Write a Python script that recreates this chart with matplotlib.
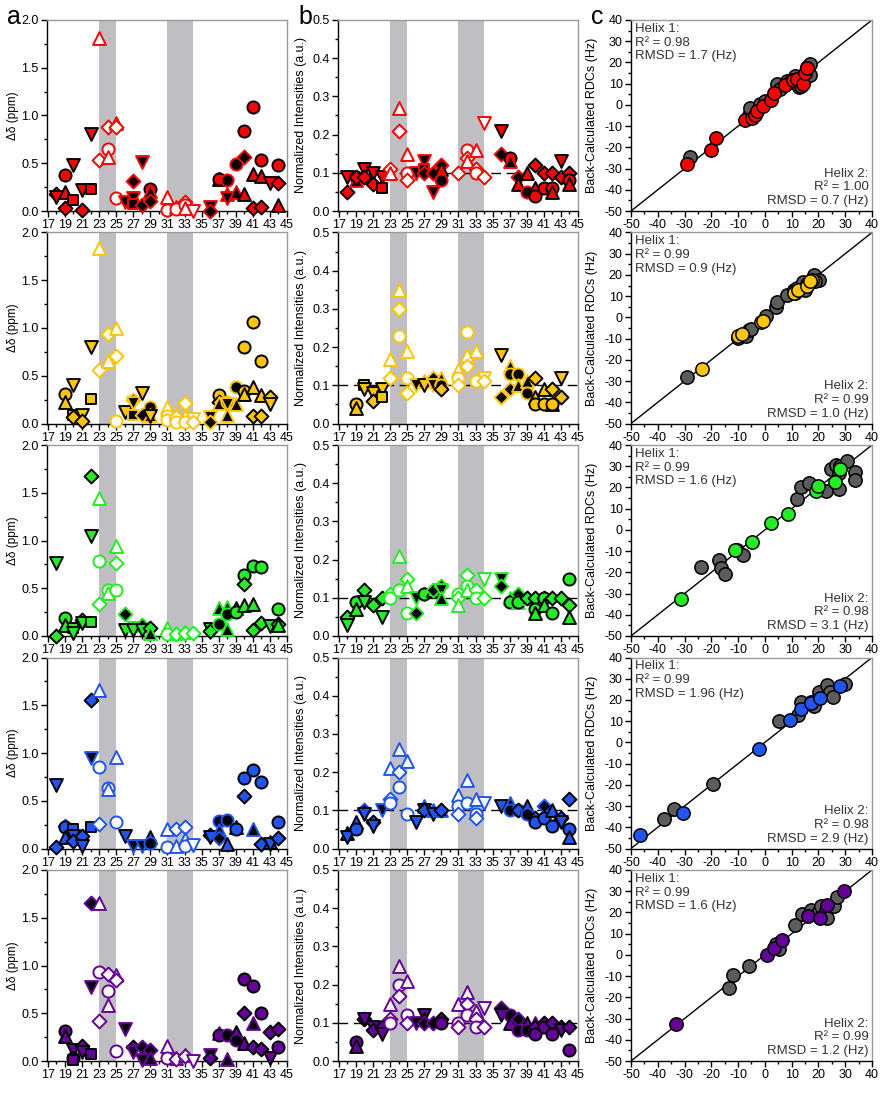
import matplotlib
matplotlib.use('Agg')
import matplotlib.pyplot as plt
from matplotlib.ticker import MultipleLocator, FormatStrFormatter

plt.rcParams['font.family'] = ['Liberation Sans', 'DejaVu Sans']
plt.rcParams['axes.unicode_minus'] = False

# ---------------- data ----------------
# chemical shift perturbations: (residue, delta ppm, atom, state)
# state: 'c' = coloured, 'k' = black, 'o' = open
red_shift = [
    (18, 0.18, 'CB', 'c'), (18, 0.15, 'CA', 'c'),
    (19, 0.38, 'H', 'c'), (19, 0.20, 'N', 'c'), (19, 0.03, 'CB', 'c'),
    (20, 0.48, 'CA', 'c'), (20, 0.12, 'C', 'c'),
    (21, 0.22, 'CA', 'c'), (21, 0.01, 'CB', 'c'),
    (22, 0.81, 'CA', 'c'), (22, 0.23, 'C', 'c'),
    (23, 1.81, 'N', 'o'), (23, 0.53, 'CB', 'o'),
    (24, 0.88, 'CB', 'o'), (24, 0.65, 'H', 'o'), (24, 0.57, 'N', 'o'),
    (25, 0.92, 'N', 'o'), (25, 0.88, 'CB', 'o'), (25, 0.14, 'H', 'o'),
    (26, 0.09, 'CA', 'k'),
    (27, 0.31, 'CB', 'k'), (27, 0.14, 'CA', 'k'), (27, 0.07, 'C', 'k'),
    (28, 0.51, 'CA', 'k'), (28, 0.06, 'CB', 'k'),
    (29, 0.23, 'H', 'c'), (29, 0.21, 'N', 'k'), (29, 0.10, 'CB', 'k'),
    (31, 0.15, 'N', 'o'), (31, 0.01, 'H', 'o'),
    (32, 0.04, 'N', 'o'), (32, 0.02, 'H', 'o'),
    (33, 0.09, 'CB', 'o'), (33, 0.06, 'H', 'o'), (33, 0.03, 'N', 'o'),
    (34, 0.00, 'CA', 'o'),
    (36, 0.04, 'CA', 'k'), (36, 0.00, 'CB', 'k'),
    (37, 0.34, 'N', 'c'), (37, 0.33, 'H', 'c'),
    (38, 0.32, 'H', 'k'), (38, 0.18, 'N', 'k'), (38, 0.14, 'CA', 'k'),
    (39, 0.49, 'H', 'k'), (39, 0.20, 'N', 'k'),
    (40, 0.84, 'H', 'c'), (40, 0.57, 'CB', 'k'), (40, 0.18, 'N', 'c'),
    (41, 1.09, 'H', 'c'), (41, 0.39, 'N', 'c'), (41, 0.03, 'CB', 'c'),
    (42, 0.53, 'H', 'c'), (42, 0.37, 'N', 'c'), (42, 0.04, 'CB', 'c'),
    (43, 0.29, 'CA', 'c'),
    (44, 0.48, 'H', 'c'), (44, 0.29, 'CB', 'c'), (44, 0.06, 'N', 'c'),
]
red_intensity = [
    (18, 0.09, 'CA', 'c'), (18, 0.05, 'CB', 'c'),
    (19, 0.09, 'H', 'c'), (19, 0.08, 'N', 'k'), (19, 0.09, 'CB', 'c'),
    (20, 0.11, 'CA', 'c'), (20, 0.09, 'CB', 'c'),
    (21, 0.10, 'CA', 'c'), (21, 0.07, 'CB', 'c'),
    (22, 0.09, 'CA', 'c'), (22, 0.06, 'C', 'c'),
    (23, 0.11, 'CB', 'o'), (23, 0.10, 'N', 'o'),
    (24, 0.27, 'N', 'o'), (24, 0.21, 'CB', 'o'),
    (25, 0.15, 'N', 'o'), (25, 0.10, 'H', 'o'), (25, 0.08, 'CB', 'o'),
    (26, 0.10, 'CA', 'k'),
    (27, 0.13, 'CA', 'k'), (27, 0.11, 'C', 'k'), (27, 0.10, 'CB', 'k'),
    (28, 0.10, 'CB', 'k'), (28, 0.05, 'CA', 'k'),
    (29, 0.12, 'CB', 'k'), (29, 0.11, 'N', 'c'), (29, 0.08, 'H', 'k'),
    (31, 0.10, 'CB', 'o'),
    (32, 0.16, 'H', 'o'), (32, 0.14, 'CB', 'o'), (32, 0.13, 'N', 'o'),
    (33, 0.16, 'N', 'o'), (33, 0.11, 'CB', 'o'), (33, 0.10, 'H', 'o'),
    (34, 0.23, 'CA', 'o'), (34, 0.09, 'CB', 'o'),
    (36, 0.21, 'CA', 'c'), (36, 0.15, 'CB', 'k'),
    (37, 0.14, 'H', 'c'), (37, 0.13, 'N', 'k'),
    (38, 0.09, 'CB', 'k'), (38, 0.07, 'N', 'c'),
    (39, 0.10, 'N', 'c'), (39, 0.05, 'H', 'k'),
    (40, 0.12, 'CB', 'c'), (40, 0.06, 'N', 'c'), (40, 0.04, 'H', 'c'),
    (41, 0.10, 'CB', 'c'), (41, 0.06, 'H', 'c'),
    (42, 0.10, 'CB', 'c'), (42, 0.06, 'H', 'c'), (42, 0.05, 'N', 'c'),
    (43, 0.13, 'CA', 'c'), (43, 0.09, 'CB', 'c'),
    (44, 0.10, 'CB', 'c'), (44, 0.08, 'H', 'c'), (44, 0.07, 'N', 'c'),
]
red_rdc = [(-29.1, -27.8), (-20, -21.2), (-18.1, -15.7), (-7.5, -7), (-4.8, -6.2),
           (-3.8, -4.6), (-2.9, -2.7), (-0.7, -0.7), (2.4, 2.1), (3.5, 5.6), (7.5, 9.6),
           (10.4, 11.9), (12, 12.4), (14.3, 10), (14.9, 15), (15.8, 17.4)]
red_rdc_other = [(-27.8, -24.7), (-6, -5), (-5.4, -1.5), (-1.7, 0.4), (0, 2), (4.5, 10),
                 (5.5, 7.5), (8.3, 11.1), (9.5, 11), (11.1, 13.8), (12, 10), (12.6, 8.3),
                 (13.6, 9.1), (14.5, 11.9), (15.8, 17.8), (16.7, 19.3), (16.9, 14.3)]

yellow_shift = [
    (19, 0.31, 'H', 'c'), (19, 0.22, 'N', 'c'),
    (20, 0.40, 'CA', 'c'), (20, 0.09, 'C', 'c'), (20, 0.07, 'CB', 'c'),
    (21, 0.09, 'CA', 'c'), (21, 0.03, 'CB', 'c'),
    (22, 0.80, 'CA', 'c'), (22, 0.26, 'C', 'c'),
    (23, 1.84, 'N', 'o'), (23, 0.56, 'CB', 'o'),
    (24, 0.94, 'CB', 'o'), (24, 0.65, 'N', 'o'),
    (25, 1.00, 'N', 'o'), (25, 0.71, 'CB', 'o'), (25, 0.03, 'H', 'o'),
    (26, 0.12, 'CA', 'c'),
    (27, 0.25, 'CB', 'k'), (27, 0.21, 'CA', 'k'), (27, 0.09, 'C', 'k'),
    (28, 0.32, 'CA', 'c'), (28, 0.09, 'CB', 'k'),
    (29, 0.17, 'H', 'k'), (29, 0.09, 'N', 'k'), (29, 0.08, 'CA', 'c'),
    (31, 0.17, 'N', 'o'), (31, 0.08, 'H', 'o'), (31, 0.04, 'H', 'o'),
    (32, 0.10, 'N', 'o'), (32, 0.07, 'CB', 'o'), (32, 0.02, 'H', 'o'),
    (33, 0.21, 'CB', 'o'), (33, 0.08, 'N', 'o'), (33, 0.02, 'H', 'o'),
    (34, 0.05, 'CA', 'o'), (34, 0.02, 'CB', 'o'),
    (36, 0.07, 'CA', 'k'), (36, 0.02, 'CB', 'k'),
    (37, 0.30, 'H', 'c'), (37, 0.22, 'CB', 'c'), (37, 0.21, 'N', 'k'),
    (38, 0.23, 'H', 'k'), (38, 0.20, 'CA', 'k'), (38, 0.09, 'N', 'k'),
    (39, 0.38, 'H', 'k'), (39, 0.20, 'N', 'k'),
    (40, 0.80, 'H', 'c'), (40, 0.34, 'H', 'c'), (40, 0.31, 'N', 'c'),
    (41, 1.06, 'H', 'c'), (41, 0.38, 'N', 'c'), (41, 0.08, 'CB', 'c'),
    (42, 0.65, 'H', 'c'), (42, 0.30, 'N', 'c'), (42, 0.08, 'CB', 'c'),
    (43, 0.28, 'CB', 'c'), (43, 0.20, 'CA', 'c'),
]
yellow_intensity = [
    (19, 0.05, 'H', 'c'), (19, 0.04, 'N', 'c'),
    (20, 0.10, 'C', 'c'), (20, 0.09, 'CA', 'c'),
    (21, 0.08, 'CA', 'c'), (21, 0.06, 'CB', 'c'),
    (22, 0.09, 'CA', 'c'), (22, 0.07, 'C', 'c'),
    (23, 0.17, 'N', 'o'), (23, 0.12, 'CB', 'o'),
    (24, 0.35, 'N', 'o'), (24, 0.30, 'CB', 'o'), (24, 0.23, 'H', 'o'),
    (25, 0.19, 'N', 'o'), (25, 0.12, 'H', 'o'), (25, 0.08, 'CB', 'o'),
    (26, 0.10, 'CA', 'k'),
    (27, 0.11, 'N', 'k'), (27, 0.10, 'CA', 'c'),
    (28, 0.12, 'CB', 'k'), (28, 0.10, 'CA', 'k'),
    (29, 0.12, 'N', 'k'), (29, 0.10, 'H', 'k'), (29, 0.09, 'CB', 'c'),
    (31, 0.14, 'N', 'o'), (31, 0.12, 'H', 'o'), (31, 0.10, 'CB', 'o'),
    (32, 0.24, 'H', 'o'), (32, 0.18, 'N', 'o'), (32, 0.15, 'CB', 'o'),
    (33, 0.19, 'N', 'o'), (33, 0.11, 'H', 'o'),
    (34, 0.12, 'CA', 'o'), (34, 0.11, 'CB', 'o'),
    (36, 0.18, 'CA', 'c'), (36, 0.07, 'CB', 'k'),
    (37, 0.15, 'N', 'k'), (37, 0.13, 'H', 'k'), (37, 0.09, 'CB', 'k'),
    (38, 0.13, 'H', 'k'), (38, 0.10, 'N', 'k'),
    (39, 0.11, 'N', 'k'), (39, 0.08, 'H', 'k'),
    (40, 0.12, 'CB', 'c'), (40, 0.07, 'N', 'c'), (40, 0.05, 'H', 'c'),
    (41, 0.09, 'N', 'c'), (41, 0.05, 'H', 'c'),
    (42, 0.09, 'CB', 'c'), (42, 0.05, 'N', 'c'), (42, 0.05, 'H', 'c'),
    (43, 0.12, 'CA', 'c'), (43, 0.07, 'CB', 'c'),
]
yellow_rdc = [(-23.6, -24.2), (-10, -8.7), (-8.4, -7.6), (-1.5, -2), (-0.8, -1.8),
              (10.8, 11.5), (12.4, 13), (15.8, 14.6), (17.6, 17.8), (16.8, 17.2)]
yellow_rdc_other = [(-29.2, -28), (-10, -9.7), (-7.2, -8.7), (-6, -5.9), (-5.3, -5.3),
                    (0.6, 0.5), (4, 4.7), (4.6, 7.2), (8.1, 10.5), (10.8, 13), (11.4, 11.7),
                    (12, 14), (14.3, 16.8), (14.9, 13), (15.8, 15.9), (18.2, 19.8),
                    (20.1, 17.5), (18.6, 17)]

green_shift = [
    (18, 0.76, 'CA', 'c'), (18, 0.00, 'CB', 'c'),
    (19, 0.19, 'H', 'c'), (19, 0.11, 'N', 'c'),
    (20, 0.08, 'C', 'c'), (20, 0.03, 'CA', 'c'),
    (21, 0.17, 'CB', 'c'), (21, 0.14, 'CA', 'c'),
    (22, 1.68, 'CB', 'c'), (22, 1.05, 'CA', 'c'), (22, 0.15, 'C', 'c'),
    (23, 1.44, 'N', 'o'), (23, 0.79, 'H', 'o'), (23, 0.34, 'CB', 'o'),
    (24, 0.48, 'H', 'o'), (24, 0.45, 'N', 'o'),
    (25, 0.94, 'N', 'o'), (25, 0.76, 'CB', 'o'), (25, 0.48, 'H', 'o'),
    (26, 0.23, 'CB', 'k'), (26, 0.06, 'CA', 'c'),
    (27, 0.09, 'C', 'k'), (27, 0.06, 'CA', 'c'),
    (28, 0.11, 'CB', 'k'), (28, 0.06, 'CA', 'c'),
    (29, 0.08, 'CB', 'c'), (29, 0.03, 'N', 'k'),
    (31, 0.08, 'N', 'o'), (31, 0.02, 'H', 'o'),
    (32, 0.03, 'N', 'o'), (32, 0.02, 'CB', 'o'),
    (33, 0.04, 'N', 'o'), (33, 0.03, 'CB', 'o'),
    (34, 0.03, 'CB', 'o'),
    (36, 0.07, 'CA', 'c'), (36, 0.05, 'CB', 'c'),
    (37, 0.29, 'N', 'k'), (37, 0.13, 'H', 'k'),
    (38, 0.30, 'N', 'k'), (38, 0.23, 'H', 'k'), (38, 0.07, 'N', 'k'),
    (39, 0.29, 'N', 'c'), (39, 0.25, 'H', 'c'),
    (40, 0.64, 'H', 'c'), (40, 0.54, 'CB', 'c'), (40, 0.32, 'N', 'c'),
    (41, 0.73, 'H', 'c'), (41, 0.34, 'N', 'c'), (41, 0.06, 'CB', 'c'),
    (42, 0.72, 'H', 'c'), (42, 0.14, 'CB', 'c'),
    (43, 0.10, 'CA', 'c'),
    (44, 0.28, 'H', 'c'), (44, 0.13, 'CB', 'c'), (44, 0.12, 'N', 'c'),
]
green_intensity = [
    (18, 0.05, 'CB', 'c'), (18, 0.03, 'CA', 'c'),
    (19, 0.09, 'H', 'c'), (19, 0.07, 'N', 'c'),
    (20, 0.12, 'CB', 'c'), (20, 0.09, 'CA', 'c'),
    (21, 0.08, 'CB', 'c'),
    (22, 0.10, 'CB', 'c'), (22, 0.05, 'CA', 'c'),
    (23, 0.11, 'CB', 'o'), (23, 0.10, 'H', 'o'),
    (24, 0.21, 'N', 'o'), (24, 0.12, 'H', 'o'),
    (25, 0.15, 'CB', 'o'), (25, 0.13, 'N', 'o'), (25, 0.06, 'H', 'o'),
    (26, 0.10, 'CA', 'k'), (26, 0.06, 'CB', 'k'),
    (27, 0.11, 'CB', 'k'), (27, 0.11, 'H', 'c'),
    (28, 0.12, 'N', 'c'), (28, 0.12, 'CB', 'k'),
    (29, 0.13, 'CB', 'k'), (29, 0.12, 'CA', 'k'), (29, 0.10, 'N', 'k'),
    (31, 0.11, 'H', 'o'), (31, 0.10, 'CB', 'o'), (31, 0.08, 'N', 'o'),
    (32, 0.16, 'CB', 'o'), (32, 0.13, 'H', 'o'), (32, 0.12, 'N', 'o'),
    (33, 0.12, 'CB', 'o'), (33, 0.10, 'H', 'o'),
    (34, 0.15, 'CA', 'o'), (34, 0.10, 'CB', 'o'),
    (36, 0.15, 'CA', 'k'), (36, 0.13, 'CB', 'k'),
    (37, 0.10, 'N', 'k'), (37, 0.09, 'H', 'c'),
    (38, 0.11, 'CB', 'k'), (38, 0.09, 'N', 'k'), (38, 0.09, 'H', 'c'),
    (39, 0.10, 'N', 'k'), (39, 0.10, 'CB', 'c'),
    (40, 0.10, 'CB', 'c'), (40, 0.07, 'H', 'c'), (40, 0.06, 'N', 'c'),
    (41, 0.10, 'CB', 'c'), (41, 0.10, 'H', 'c'), (41, 0.08, 'N', 'c'),
    (42, 0.10, 'CB', 'c'), (42, 0.06, 'H', 'c'),
    (43, 0.10, 'CB', 'c'),
    (44, 0.15, 'H', 'c'), (44, 0.08, 'CB', 'c'), (44, 0.05, 'N', 'c'),
]
green_rdc = [(-31.4, -32.6), (-11.3, -9.5), (-4.7, -5.9), (2.1, 3.3), (8.7, 7.7),
             (19.1, 18.1), (19.8, 20.6), (26.1, 22.6), (27.9, 28.9)]
green_rdc_other = [(-23.7, -17.4), (-17.1, -14.1), (-16.3, -17.8), (-14.9, -20.7),
                   (-10.3, -9.3), (-8.1, -11.7), (12, 14.4), (13.6, 20), (16.5, 22.1),
                   (22.9, 18.1), (24.8, 28.5), (26.7, 30.6), (27.7, 26.8), (27.7, 19.5),
                   (28.2, 30), (30.6, 32.3), (33.5, 27.1), (33.5, 23.6)]

blue_shift = [
    (18, 0.67, 'CA', 'c'), (18, 0.02, 'CB', 'c'),
    (19, 0.24, 'CB', 'k'), (19, 0.22, 'H', 'c'), (19, 0.12, 'N', 'c'),
    (20, 0.20, 'C', 'c'), (20, 0.13, 'CA', 'c'), (20, 0.08, 'CB', 'c'),
    (21, 0.13, 'CB', 'c'), (21, 0.03, 'CA', 'c'),
    (22, 1.55, 'CB', 'c'), (22, 0.95, 'CA', 'k'), (22, 0.22, 'C', 'c'),
    (23, 1.66, 'N', 'o'), (23, 0.85, 'H', 'o'), (23, 0.26, 'CB', 'o'),
    (24, 0.63, 'H', 'o'), (24, 0.62, 'N', 'o'),
    (25, 0.96, 'N', 'o'), (25, 0.28, 'H', 'o'),
    (26, 0.13, 'CA', 'c'),
    (27, 0.03, 'CA', 'k'),
    (28, 0.03, 'CA', 'k'),
    (29, 0.12, 'N', 'c'), (29, 0.06, 'H', 'k'),
    (31, 0.20, 'N', 'o'), (31, 0.02, 'H', 'o'),
    (32, 0.20, 'CB', 'o'), (32, 0.03, 'N', 'o'),
    (33, 0.23, 'CB', 'o'), (33, 0.10, 'N', 'o'), (33, 0.03, 'H', 'o'),
    (34, 0.04, 'CA', 'o'),
    (36, 0.14, 'CB', 'c'), (36, 0.12, 'CA', 'c'),
    (37, 0.29, 'H', 'k'), (37, 0.19, 'N', 'k'), (37, 0.11, 'CB', 'k'),
    (38, 0.30, 'H', 'k'), (38, 0.05, 'N', 'c'),
    (39, 0.22, 'N', 'c'), (39, 0.20, 'H', 'c'),
    (40, 0.74, 'H', 'c'), (40, 0.55, 'CB', 'c'),
    (41, 0.82, 'H', 'c'), (41, 0.20, 'N', 'k'),
    (42, 0.70, 'H', 'c'), (42, 0.05, 'CB', 'c'),
    (43, 0.07, 'N', 'c'), (43, 0.05, 'CA', 'c'),
    (44, 0.28, 'H', 'c'), (44, 0.11, 'CB', 'c'),
]
blue_intensity = [
    (18, 0.04, 'N', 'c'), (18, 0.03, 'CA', 'c'),
    (19, 0.07, 'N', 'c'), (19, 0.05, 'H', 'c'),
    (20, 0.10, 'CB', 'k'), (20, 0.09, 'CA', 'c'),
    (21, 0.07, 'CB', 'c'), (21, 0.06, 'CA', 'c'),
    (22, 0.10, 'CA', 'k'),
    (23, 0.21, 'N', 'o'), (23, 0.13, 'CB', 'o'), (23, 0.12, 'H', 'o'),
    (24, 0.26, 'N', 'o'), (24, 0.20, 'CB', 'o'), (24, 0.16, 'H', 'o'),
    (25, 0.23, 'N', 'o'), (25, 0.09, 'H', 'o'),
    (26, 0.07, 'CA', 'c'),
    (27, 0.11, 'N', 'k'), (27, 0.10, 'CA', 'c'), (27, 0.10, 'CB', 'c'),
    (28, 0.10, 'N', 'k'), (28, 0.09, 'CA', 'c'),
    (29, 0.10, 'N', 'k'), (29, 0.10, 'CB', 'c'),
    (31, 0.14, 'N', 'o'), (31, 0.11, 'H', 'o'), (31, 0.09, 'CB', 'o'),
    (32, 0.18, 'N', 'o'), (32, 0.12, 'H', 'o'),
    (33, 0.13, 'N', 'o'), (33, 0.09, 'H', 'o'), (33, 0.08, 'CB', 'o'),
    (34, 0.12, 'CA', 'o'),
    (36, 0.11, 'CA', 'c'),
    (37, 0.12, 'N', 'k'), (37, 0.10, 'H', 'k'),
    (38, 0.10, 'H', 'k'), (38, 0.10, 'CB', 'c'),
    (39, 0.11, 'N', 'c'), (39, 0.09, 'H', 'k'),
    (40, 0.08, 'CB', 'c'), (40, 0.07, 'H', 'c'),
    (41, 0.11, 'CB', 'k'), (41, 0.08, 'H', 'c'),
    (42, 0.10, 'N', 'c'), (42, 0.06, 'H', 'c'),
    (43, 0.08, 'CB', 'c'), (43, 0.07, 'CA', 'c'),
    (44, 0.13, 'CB', 'c'), (44, 0.05, 'H', 'c'), (44, 0.03, 'N', 'c'),
]
blue_rdc = [(-46.5, -43.7), (-30.5, -33.1), (-2.2, -3.3), (9.3, 10.7), (13.6, 15.6),
            (17.3, 18.5), (20.7, 20.8), (27.9, 26.5)]
blue_rdc_other = [(-37.6, -35.9), (-33.9, -31.5), (-19.4, -19.8), (5.2, 10.2), (12.5, 13.1),
                  (13.6, 19.2), (17.4, 18.8), (18.2, 17.3), (20.1, 23.6), (23.2, 26.9),
                  (24.2, 23.6), (25.6, 21.3), (30, 27.5)]

purple_shift = [
    (19, 0.31, 'H', 'c'), (19, 0.26, 'N', 'c'),
    (20, 0.12, 'CA', 'c'), (20, 0.03, 'H', 'c'), (20, 0.01, 'C', 'c'),
    (21, 0.16, 'CB', 'c'), (21, 0.09, 'CA', 'c'),
    (22, 1.65, 'CB', 'k'), (22, 0.78, 'CA', 'k'), (22, 0.07, 'C', 'c'),
    (23, 1.65, 'N', 'o'), (23, 0.93, 'H', 'o'), (23, 0.42, 'CB', 'o'),
    (24, 0.91, 'CB', 'o'), (24, 0.73, 'H', 'o'), (24, 0.59, 'N', 'o'),
    (25, 0.90, 'N', 'o'), (25, 0.85, 'CB', 'o'), (25, 0.10, 'H', 'o'),
    (26, 0.34, 'CA', 'k'),
    (27, 0.15, 'CB', 'c'), (27, 0.09, 'CA', 'k'),
    (28, 0.15, 'CB', 'k'), (28, 0.01, 'CA', 'k'),
    (29, 0.11, 'CB', 'k'), (29, 0.03, 'N', 'k'),
    (31, 0.16, 'N', 'o'), (31, 0.03, 'H', 'o'),
    (32, 0.03, 'N', 'o'), (32, 0.02, 'CB', 'o'),
    (33, 0.06, 'N', 'o'), (33, 0.05, 'CB', 'o'),
    (34, 0.00, 'CA', 'o'),
    (36, 0.06, 'CA', 'k'), (36, 0.03, 'CB', 'c'),
    (37, 0.29, 'N', 'k'), (37, 0.27, 'H', 'c'),
    (38, 0.27, 'H', 'k'), (38, 0.02, 'N', 'k'),
    (39, 0.30, 'N', 'c'), (39, 0.22, 'H', 'k'),
    (40, 0.86, 'H', 'c'), (40, 0.50, 'CB', 'c'), (40, 0.19, 'N', 'c'),
    (41, 0.79, 'H', 'c'), (41, 0.40, 'N', 'k'), (41, 0.15, 'CB', 'c'),
    (42, 0.50, 'H', 'c'), (42, 0.13, 'CB', 'c'),
    (43, 0.30, 'CB', 'c'), (43, 0.03, 'CA', 'c'),
    (44, 0.33, 'CB', 'c'), (44, 0.15, 'H', 'c'),
]
purple_intensity = [
    (19, 0.05, 'H', 'c'), (19, 0.04, 'N', 'c'),
    (20, 0.11, 'CB', 'c'), (20, 0.11, 'CA', 'c'),
    (21, 0.09, 'CA', 'c'), (21, 0.08, 'CB', 'c'),
    (22, 0.09, 'CB', 'c'), (22, 0.07, 'CA', 'c'),
    (23, 0.15, 'N', 'o'), (23, 0.11, 'CB', 'o'), (23, 0.10, 'H', 'o'),
    (24, 0.25, 'N', 'o'), (24, 0.20, 'H', 'o'), (24, 0.17, 'CB', 'o'),
    (25, 0.21, 'N', 'o'), (25, 0.12, 'H', 'o'), (25, 0.10, 'CB', 'o'),
    (26, 0.10, 'CA', 'k'),
    (27, 0.12, 'CA', 'c'), (27, 0.11, 'N', 'c'), (27, 0.10, 'CB', 'k'),
    (28, 0.10, 'CB', 'k'),
    (29, 0.11, 'CB', 'c'), (29, 0.10, 'H', 'c'),
    (31, 0.15, 'N', 'o'), (31, 0.10, 'H', 'o'), (31, 0.09, 'CB', 'o'),
    (32, 0.18, 'N', 'o'), (32, 0.15, 'CB', 'o'), (32, 0.12, 'H', 'o'),
    (33, 0.13, 'N', 'o'), (33, 0.11, 'CB', 'o'), (33, 0.09, 'H', 'o'),
    (34, 0.14, 'CA', 'o'), (34, 0.09, 'CB', 'o'),
    (36, 0.14, 'CB', 'k'), (36, 0.12, 'CA', 'c'),
    (37, 0.12, 'H', 'k'), (37, 0.10, 'N', 'c'),
    (38, 0.11, 'CB', 'k'), (38, 0.08, 'H', 'k'),
    (39, 0.10, 'N', 'c'), (39, 0.08, 'H', 'k'),
    (40, 0.10, 'N', 'k'), (40, 0.09, 'CB', 'c'), (40, 0.07, 'H', 'c'),
    (41, 0.10, 'CB', 'c'), (41, 0.09, 'H', 'c'),
    (42, 0.10, 'CB', 'c'), (42, 0.07, 'H', 'c'),
    (43, 0.09, 'CB', 'c'), (43, 0.08, 'CA', 'c'),
    (44, 0.09, 'CB', 'c'), (44, 0.03, 'H', 'c'),
]
purple_rdc = [(-33.1, -32.6), (0.9, -0.2), (3.4, 3.3), (6.4, 6.8), (16.2, 18.4),
              (20.6, 17.6), (23.1, 23.5), (29.6, 30)]
purple_rdc_other = [(-13.3, -15.5), (-11.8, -9.4), (-5.8, -5.1), (4, 5.2), (5.3, 2.8),
                    (11.4, 14.1), (14, 19.2), (17.2, 21.1), (20.1, 20.5), (20.9, 23.2),
                    (22.8, 20.8), (23.1, 17.6), (25.8, 23.2), (26.8, 27.1)]

helix1_r2 = ['0.98', '0.99', '0.99', '0.99', '0.99']
helix1_rmsd = ['1.7', '0.9', '1.6', '1.96', '1.6']
helix2_r2 = ['1.00', '0.99', '0.98', '0.98', '0.99']
helix2_rmsd = ['0.7', '1.0', '3.1', '2.9', '1.2']

region_bands = [(23, 25), (31, 34)]
x_ticks = list(range(17, 46, 2))

# ---------------- styling ----------------
colors = ['#FF0000', '#FFC600', '#22EE22', '#1F55F5', '#66009A']
shifts = [red_shift, yellow_shift, green_shift, blue_shift, purple_shift]
intens = [red_intensity, yellow_intensity, green_intensity, blue_intensity, purple_intensity]
rdcs = [red_rdc, yellow_rdc, green_rdc, blue_rdc, purple_rdc]
rdcs_other = [red_rdc_other, yellow_rdc_other, green_rdc_other, blue_rdc_other, purple_rdc_other]

SHAPE = {'H': 'o', 'N': '^', 'CA': 'v', 'CB': 'D', 'C': 's'}
SIZE = {'o': 76, '^': 86, 'v': 86, 'D': 50, 's': 56}
BAND = '#BEBEC3'

W, H = 882, 1093
fig = plt.figure(figsize=(W / 100, H / 100), dpi=100)


def ax_at(x0, y0, w, h):
    return fig.add_axes([x0 / W, 1 - (y0 + h) / H, w / W, h / H])


def style_axes(ax):
    for s in ['left', 'bottom']:
        ax.spines[s].set_color('black')
        ax.spines[s].set_linewidth(1.0)
    for s in ['top', 'right']:
        ax.spines[s].set_color('#9a9a9a')
        ax.spines[s].set_linewidth(1.0)
    ax.tick_params(which='both', direction='out', labelsize=9, pad=2, width=1)
    ax.tick_params(which='major', length=4)
    ax.tick_params(which='minor', length=2.5)


def residue_panel(ax, data, color, ymax, ystep, fmt):
    for lo, hi in region_bands:
        ax.axvspan(lo, hi, color=BAND, lw=0, zorder=0)
    for res, val, atom, state in data:
        m = SHAPE[atom]
        if state == 'c':
            fc, ec = color, 'black'
        elif state == 'k':
            fc, ec = 'black', color
        else:
            fc, ec = 'white', color
        ax.scatter(res, val, marker=m, s=SIZE[m], facecolor=fc, edgecolor=ec,
                   linewidths=1.4, zorder=3, clip_on=False)
    ax.set_xlim(16.9, 45)
    ax.set_ylim(0, ymax)
    ax.set_xticks(x_ticks)
    ax.xaxis.set_minor_locator(MultipleLocator(1))
    ax.yaxis.set_major_locator(MultipleLocator(ystep))
    ax.yaxis.set_minor_locator(MultipleLocator(ystep / 2))
    ax.yaxis.set_major_formatter(FormatStrFormatter(fmt))
    style_axes(ax)


for i in range(5):
    y0 = 20 + 212.5 * i
    col = colors[i]

    # ---- a: chemical shift perturbations
    axa = ax_at(47, y0, 240, 191)
    residue_panel(axa, shifts[i], col, 2.0, 0.5, '%.1f')
    axa.set_ylabel('Δδ (ppm)', fontsize=8.5)
    axa.yaxis.set_label_coords(-0.115, 0.5)

    # ---- b: normalized intensities
    axb = ax_at(338, y0, 240, 191)
    axb.axhline(0.1, color='black', lw=1.0, ls=(0, (7, 4)), zorder=1)
    residue_panel(axb, intens[i], col, 0.5, 0.1, '%.1f')
    axb.set_ylabel('Normalized Intensities (a.u.)', fontsize=9)
    axb.yaxis.set_label_coords(-0.13, 0.5)

    # ---- c: RDC correlation
    axc = ax_at(631, y0, 241, 191)
    axc.plot([-50, 40], [-50, 40], color='black', lw=1.0, zorder=1)
    gx = [p[0] for p in rdcs_other[i]]
    gy = [p[1] for p in rdcs_other[i]]
    axc.scatter(gx, gy, s=92, facecolor='#5c5c5c', edgecolor='black', linewidths=1.1, zorder=2)
    cx = [p[0] for p in rdcs[i]]
    cy = [p[1] for p in rdcs[i]]
    axc.scatter(cx, cy, s=92, facecolor=col, edgecolor='black', linewidths=1.1, zorder=3)
    axc.set_xlim(-50, 40)
    axc.set_ylim(-50, 40)
    axc.xaxis.set_major_locator(MultipleLocator(10))
    axc.xaxis.set_minor_locator(MultipleLocator(5))
    axc.yaxis.set_major_locator(MultipleLocator(10))
    axc.yaxis.set_minor_locator(MultipleLocator(5))
    style_axes(axc)
    axc.set_ylabel('Back-Calculated RDCs (Hz)', fontsize=9)
    axc.yaxis.set_label_coords(-0.135, 0.5)
    axc.text(0.015, 0.985,
             f'Helix 1:\nR² = {helix1_r2[i]}\nRMSD = {helix1_rmsd[i]} (Hz)',
             transform=axc.transAxes, ha='left', va='top', fontsize=9.5,
             color='#333333', linespacing=1.2)
    axc.text(0.985, 0.02,
             f'Helix 2:\nR² = {helix2_r2[i]}\nRMSD = {helix2_rmsd[i]} (Hz)',
             transform=axc.transAxes, ha='right', va='bottom', fontsize=9.5,
             color='#333333', linespacing=1.2, multialignment='right')

for letter, x in [('a', 14), ('b', 305), ('c', 597)]:
    fig.text(x / W, 1 - 17 / H, letter, fontsize=18, ha='center', va='center')

fig.savefig('out.png', dpi=100)
